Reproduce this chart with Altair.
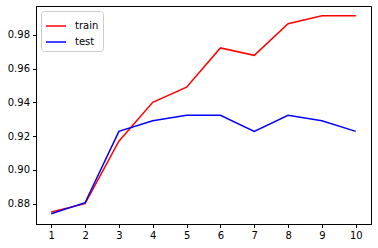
import altair as alt
import pandas as pd

epochs = [1, 2, 3, 4, 5, 6, 7, 8, 9, 10]
train = [0.8751, 0.8800, 0.9170, 0.9400, 0.9490, 0.9722, 0.9678, 0.9865, 0.9912, 0.9912]
test = [0.8741, 0.8806, 0.9228, 0.9291, 0.9323, 0.9323, 0.9228, 0.9323, 0.9291, 0.9228]
series = ["train", "test"]
colors = ["red", "blue"]
x_ticks = [1, 2, 3, 4, 5, 6, 7, 8, 9, 10]
y_ticks = [0.88, 0.90, 0.92, 0.94, 0.96, 0.98]

df = pd.DataFrame(
    [{"epoch": e, "value": v, "series": "train"} for e, v in zip(epochs, train)]
    + [{"epoch": e, "value": v, "series": "test"} for e, v in zip(epochs, test)]
)

chart = (
    alt.Chart(df)
    .mark_line(strokeWidth=1.5)
    .encode(
        x=alt.X(
            "epoch:Q",
            scale=alt.Scale(domain=[0.55, 10.45], nice=False, zero=False),
            axis=alt.Axis(values=x_ticks, title=None, grid=False, format="d",
                          tickSize=3.5, labelPadding=3),
        ),
        y=alt.Y(
            "value:Q",
            scale=alt.Scale(domain=[0.868, 0.997], nice=False, zero=False),
            axis=alt.Axis(values=y_ticks, title=None, grid=False, format=".2f",
                          tickSize=3.5, labelPadding=3),
        ),
        color=alt.Color(
            "series:N",
            scale=alt.Scale(domain=series, range=colors),
            sort=series,
            legend=alt.Legend(
                title=None, orient="top-left", offset=5,
                fillColor="white", strokeColor="#cccccc", cornerRadius=3,
                padding=4, symbolType="stroke", symbolSize=400,
                symbolStrokeWidth=1.5, labelFontSize=10, labelFont="DejaVu Sans",
                rowPadding=-6, labelOffset=8,
            ),
        ),
    )
    .properties(width=335, height=218, padding={"left": 36, "top": 6, "right": 7, "bottom": 24},
                autosize=alt.AutoSizeParams(type="none"))
    .configure_view(stroke="black", strokeWidth=1)
    .configure_axis(
        domainColor="black", tickColor="black", labelColor="black",
        labelFont="DejaVu Sans", labelFontSize=10,
    )
)

chart.save("out.html", embed_options={"renderer": "svg", "actions": False})
